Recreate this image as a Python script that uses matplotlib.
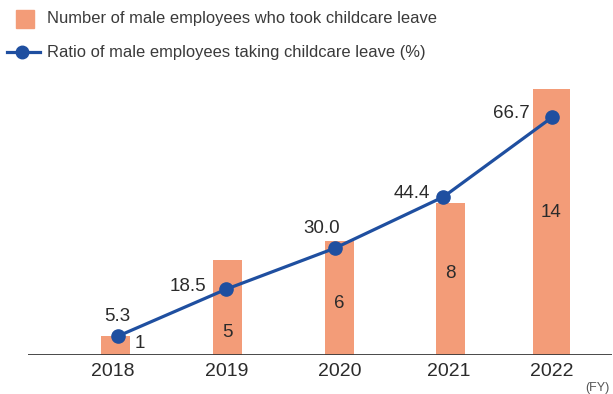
import matplotlib.pyplot as plt
from matplotlib.patches import Rectangle
from matplotlib.lines import Line2D

# fiscal years and values
years = ["2018", "2019", "2020", "2021", "2022"]
male_leave_count = [1, 5, 6, 8, 14]
male_leave_ratio = [5.3, 18.5, 30.0, 44.4, 66.7]

bar_color = "#f39c78"
line_color = "#1f4fa0"
text_color = "#2b2b2b"

plt.rcParams["font.family"] = ["Liberation Sans", "DejaVu Sans"]

fig = plt.figure(figsize=(6.13, 3.94), dpi=100)
ax = fig.add_axes([28 / 613, 39 / 394, 584 / 613, 285 / 394])
ax2 = ax.twinx()

x = list(range(len(years)))
# bars sit a little off the line markers in this layout
bar_shift = [-0.023, 0.009, 0.041, 0.065, -0.005]
bar_x = [i + s for i, s in zip(x, bar_shift)]
widths = [0.267, 0.267, 0.267, 0.267, 0.341]
ax.bar(bar_x, male_leave_count, width=widths, color=bar_color, zorder=1)

# count labels, inside the bars (the first one sits beside its short bar)
count_pos = [(x[0] + 0.203, 0.6), (bar_x[1], 1.2), (bar_x[2], 2.7), (bar_x[3], 4.3), (bar_x[4], 7.5)]
for (cx, y), v in zip(count_pos, male_leave_count):
    ax.text(cx, y, str(v), ha="center", va="center", fontsize=13.5, color=text_color)

ax2.plot(x, male_leave_ratio, color=line_color, lw=2.3, marker="o", ms=9.5, zorder=3)
ratio_off = [(-0.01, 5.4), (-0.355, 0.6), (-0.12, 5.6), (-0.29, 0.8), (-0.37, 1.2)]
for i, v in enumerate(male_leave_ratio):
    dx, dy = ratio_off[i]
    ax2.text(i + dx, v + dy, f"{v:.1f}", ha="center", va="center", fontsize=13.5, color=text_color)

ax.set_xlim(-0.829, 4.553)
ax.set_ylim(0, 15)
ax2.set_ylim(0, 80)

for a in (ax, ax2):
    for s in ["top", "right", "left", "bottom"]:
        a.spines[s].set_visible(False)
    a.set_yticks([])
ax.axhline(0, color="#3a3a3a", lw=1.3, zorder=2)

ax.set_xticks([i + s for i, s in zip(x, [-0.046, 0, 0.04, 0.05, 0])])
ax.set_xticklabels(years, fontsize=14, color=text_color)
ax.tick_params(axis="x", length=0, pad=6)

fig.text(597 / 613, 1 - 388 / 394, "(FY)", ha="center", va="center", fontsize=9, color="#555555")

# legend drawn by hand at the top left
fig.add_artist(Rectangle((16 / 613, 1 - 28 / 394), 18 / 613, 18 / 394, color=bar_color,
                         transform=fig.transFigure))
fig.add_artist(Line2D([7 / 613, 40 / 613], [1 - 52 / 394] * 2, color=line_color, lw=2.3,
                      transform=fig.transFigure))
fig.add_artist(Line2D([22 / 613], [1 - 52 / 394], color=line_color, marker="o", ms=9,
                      transform=fig.transFigure))
fig.text(47 / 613, 1 - 19 / 394, "Number of male employees who took childcare leave",
         ha="left", va="center", fontsize=11.9, color="#3a3a3a")
fig.text(47 / 613, 1 - 52 / 394, "Ratio of male employees taking childcare leave (%)",
         ha="left", va="center", fontsize=11.9, color="#3a3a3a")

fig.savefig("out.png", dpi=100)
